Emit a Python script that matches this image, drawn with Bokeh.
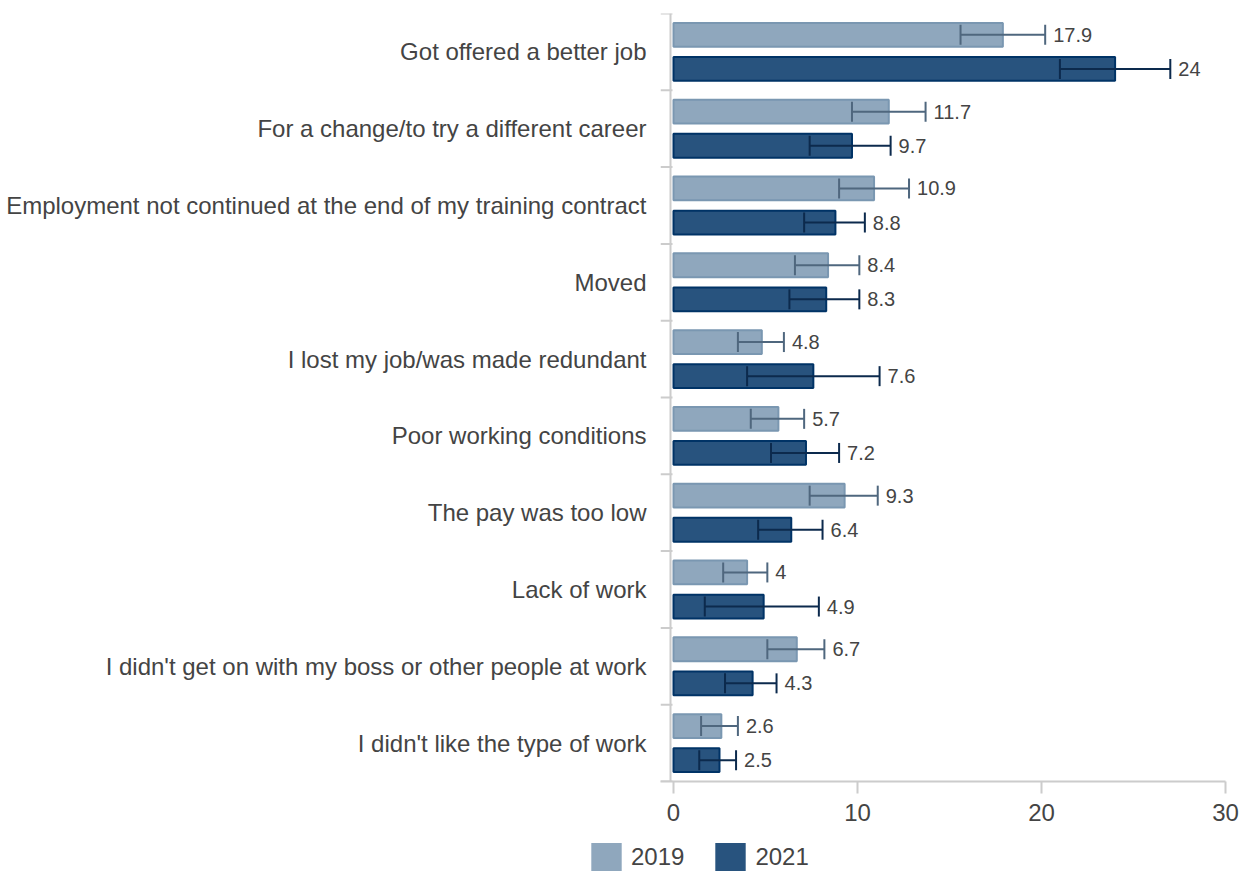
from bokeh.plotting import figure
from bokeh.layouts import column, row
from bokeh.models import (ColumnDataSource, Range1d, FixedTicker, Span, Whisker,
                          TeeHead, Legend, LegendItem, Spacer)
from bokeh.core.properties import value
from bokeh.embed import file_html
from bokeh.resources import INLINE

categories = [
    "Got offered a better job",
    "For a change/to try a different career",
    "Employment not continued at the end of my training contract",
    "Moved",
    "I lost my job/was made redundant",
    "Poor working conditions",
    "The pay was too low",
    "Lack of work",
    "I didn't get on with my boss or other people at work",
    "I didn't like the type of work",
]
val_2019 = [17.9, 11.7, 10.9, 8.4, 4.8, 5.7, 9.3, 4.0, 6.7, 2.6]
lo_2019 = [15.6, 9.7, 9.0, 6.6, 3.5, 4.2, 7.4, 2.7, 5.1, 1.5]
hi_2019 = [20.2, 13.7, 12.8, 10.1, 6.0, 7.1, 11.1, 5.1, 8.2, 3.5]
val_2021 = [24.0, 9.7, 8.8, 8.3, 7.6, 7.2, 6.4, 4.9, 4.3, 2.5]
lo_2021 = [21.0, 7.4, 7.1, 6.3, 4.0, 5.3, 4.6, 1.7, 2.8, 1.4]
hi_2021 = [27.0, 11.8, 10.4, 10.1, 11.2, 9.0, 8.1, 7.9, 5.6, 3.4]
series = ["2019", "2021"]
x_ticks = [0, 10, 20, 30]

C19_FILL, C19_LINE, C19_ERR = "#8fa7bd", "#7a97b1", "#4f677e"
C21_FILL, C21_LINE, C21_ERR = "#28537e", "#003366", "#0c2a4d"
TXT = "#444444"
AXC = "#cccccc"
FONT = "Liberation Sans"

n = len(categories)
pos = [i + 1 for i in range(n)]
off = 0.222
bh = 0.31

def src(vals, lo, hi, sign):
    return ColumnDataSource(dict(
        y=[p_ + sign * off for p_ in pos],
        v=vals, lo=lo, hi=hi,
        lab=[f"{v:g}" for v in vals],
    ))

s19 = src(val_2019, lo_2019, hi_2019, -1)
s21 = src(val_2021, lo_2021, hi_2021, +1)

PX = 18.4  # pixels per unit on the x axis
x_start = -13 / PX
p = figure(width=1240, height=834, output_backend="svg", toolbar_location=None,
           x_range=Range1d(x_start, 30), y_range=Range1d(n + 0.5, 0.5),
           min_border_left=660, min_border_right=15, min_border_top=13, min_border_bottom=53)
p.outline_line_color = None
p.grid.visible = False

p.hbar(y="y", left=0, right="v", height=bh, source=s19,
       fill_color=C19_FILL, line_color=C19_LINE, line_width=2)
p.hbar(y="y", left=0, right="v", height=bh, source=s21,
       fill_color=C21_FILL, line_color=C21_LINE, line_width=2)

for s, c in ((s19, C19_ERR), (s21, C21_ERR)):
    w = Whisker(source=s, base="y", lower="lo", upper="hi", dimension="width",
                line_color=c, line_width=2, level="overlay",
                upper_head=TeeHead(size=20, line_color=c, line_width=2),
                lower_head=TeeHead(size=20, line_color=c, line_width=2))
    p.add_layout(w)
    p.text(x="hi", y="y", text="lab", source=s, x_offset=8, text_baseline="middle",
           text_align="left", text_font=value(FONT), text_font_size="20px", text_color=TXT)

# y axis
yax = p.yaxis[0]
yax.ticker = FixedTicker(ticks=pos)
yax.major_label_overrides = {p_: c for p_, c in zip(pos, categories)}
yax.axis_line_color = None
yax.major_tick_line_color = None
yax.minor_tick_line_color = None
yax.major_label_standoff = 8
yax.major_label_text_font = FONT
yax.major_label_text_font_size = "24px"
yax.major_label_text_color = TXT

# category boundary ticks and y axis line
bounds = [i + 0.5 for i in range(n + 1)]
p.segment(x0=x_start, x1=-1 / PX, y0=bounds, y1=bounds, line_color=AXC, line_width=2)
p.add_layout(Span(location=-3 / PX, dimension="height", line_color=AXC, line_width=2))

# x axis
xax = p.xaxis[0]
xax.ticker = FixedTicker(ticks=x_ticks)
xax.axis_line_color = AXC
xax.axis_line_width = 2
xax.major_tick_line_color = AXC
xax.major_tick_line_width = 2
xax.major_tick_out = 12
xax.major_tick_in = 0
xax.minor_tick_line_color = None
xax.major_label_standoff = 10
xax.major_label_text_font = FONT
xax.major_label_text_font_size = "24px"
xax.major_label_text_color = TXT

# legend strip below the chart (legend-only renderers sit outside the visible range)
lf = figure(width=260, height=40, output_backend="svg", toolbar_location=None,
            x_axis_type=None, y_axis_type=None, min_border=0,
            x_range=Range1d(0, 1), y_range=Range1d(0, 1))
lf.outline_line_color = None
lf.grid.visible = False
l19 = lf.hbar(y=[-5], left=[0], right=[0], height=0.1, fill_color=C19_FILL, line_color=None)
l21 = lf.hbar(y=[-5], left=[0], right=[0], height=0.1, fill_color=C21_FILL, line_color=None)
legend = Legend(items=[LegendItem(label=series[0], renderers=[l19]),
                       LegendItem(label=series[1], renderers=[l21])],
                orientation="horizontal", location="bottom_left",
                glyph_width=38, glyph_height=35, label_standoff=6, spacing=27,
                label_text_font=FONT, label_text_font_size="24px", label_text_color=TXT,
                border_line_color=None, background_fill_alpha=0, padding=0, margin=0)
lf.add_layout(legend, "center")

layout = column(p, row(Spacer(width=587, height=40), lf))
open("out.html", "w").write(file_html(layout, INLINE))
